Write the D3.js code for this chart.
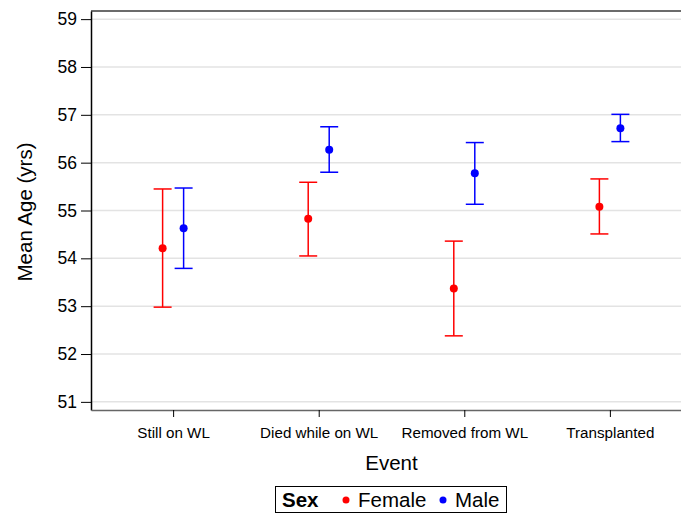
<!DOCTYPE html>
<html>
<head>
<meta charset="utf-8">
<script src="https://cdn.jsdelivr.net/npm/d3@7"></script>
<style>
  body { margin: 0; background: #fff; }
  svg { display: block; }
  svg text { font-family: "Liberation Sans", Arial, sans-serif; }
</style>
</head>
<body>
<div id="chart"></div>
<script>
var svgWidth = 681;
var svgHeight = 514;

// plot frame (right edge runs past the window, as in the original)
var margin = { top: 11, left: 91 };
var plotRight = 692;
var plotBottom = 410;

// data
var events = ["Still on WL", "Died while on WL", "Removed from WL", "Transplanted"];
var sexes = ["Female", "Male"];
var femaleMean  = [54.21, 54.83, 53.37, 55.08];
var femaleLower = [52.98, 54.05, 52.38, 54.51];
var femaleUpper = [55.45, 55.59, 54.36, 55.66];
var maleMean    = [54.63, 56.27, 55.78, 56.72];
var maleLower   = [53.79, 55.80, 55.13, 56.44];
var maleUpper   = [55.47, 56.75, 56.42, 57.01];
var yTicks = [51, 52, 53, 54, 55, 56, 57, 58, 59];

var colors = { Female: "#ff0000", Male: "#0000ff" };
var offsets = { Female: -10.5, Male: 10.5 };

var rows = [];
events.forEach(function(ev, i) {
  rows.push({ event: ev, sex: "Female", mean: femaleMean[i], lo: femaleLower[i], hi: femaleUpper[i] });
  rows.push({ event: ev, sex: "Male", mean: maleMean[i], lo: maleLower[i], hi: maleUpper[i] });
});

var svg = d3.select("#chart")
  .append("svg")
  .attr("width", svgWidth)
  .attr("height", svgHeight);

var x = d3.scalePoint()
  .domain(events)
  .range([margin.left, plotRight])
  .padding(0.564);

var y = d3.scaleLinear()
  .domain([50.83, 59.17])
  .range([plotBottom, margin.top]);

// gridlines
svg.append("g")
  .selectAll("line")
  .data(yTicks)
  .enter()
  .append("line")
  .attr("x1", margin.left)
  .attr("x2", plotRight)
  .attr("y1", d => y(d))
  .attr("y2", d => y(d))
  .attr("stroke", "#e3e3e3")
  .attr("stroke-width", 1.5);

// top frame line
svg.append("line")
  .attr("x1", margin.left).attr("x2", plotRight)
  .attr("y1", margin.top).attr("y2", margin.top)
  .attr("stroke", "#3a3a3a")
  .attr("stroke-width", 1.5);

// y axis
var yAxis = svg.append("g")
  .attr("transform", `translate(${margin.left},0)`)
  .call(d3.axisLeft(y).tickValues(yTicks).tickSize(10).tickPadding(4).tickSizeOuter(0));
yAxis.select(".domain").attr("stroke", "#000").attr("stroke-width", 1.5);
yAxis.selectAll(".tick line").attr("stroke", "#000");
yAxis.selectAll("text")
  .style("font-size", "17.5px")
  .attr("fill", "#000");

// x axis
var xAxis = svg.append("g")
  .attr("transform", `translate(0,${plotBottom})`)
  .call(d3.axisBottom(x).tickSize(7).tickPadding(10).tickSizeOuter(0));
xAxis.select(".domain").attr("stroke", "#666").attr("stroke-width", 1.5);
xAxis.selectAll(".tick line").attr("stroke", "#000");
xAxis.selectAll("text")
  .style("font-size", "15.2px")
  .attr("fill", "#000");

// axis titles
svg.append("text")
  .attr("x", (margin.left + plotRight) / 2)
  .attr("y", 470)
  .attr("text-anchor", "middle")
  .style("font-size", "20.5px")
  .text("Event");

svg.append("text")
  .attr("transform", "rotate(-90)")
  .attr("x", -212)
  .attr("y", 32)
  .attr("text-anchor", "middle")
  .style("font-size", "20.5px")
  .text("Mean Age (yrs)");

// error bars
var bars = svg.append("g")
  .selectAll("g")
  .data(rows)
  .enter()
  .append("g")
  .attr("stroke", d => colors[d.sex])
  .attr("stroke-width", 1.5);

bars.append("line")
  .attr("x1", d => x(d.event) + offsets[d.sex])
  .attr("x2", d => x(d.event) + offsets[d.sex])
  .attr("y1", d => y(d.lo))
  .attr("y2", d => y(d.hi));

bars.append("line")
  .attr("x1", d => x(d.event) + offsets[d.sex] - 9)
  .attr("x2", d => x(d.event) + offsets[d.sex] + 9)
  .attr("y1", d => y(d.hi))
  .attr("y2", d => y(d.hi));

bars.append("line")
  .attr("x1", d => x(d.event) + offsets[d.sex] - 9)
  .attr("x2", d => x(d.event) + offsets[d.sex] + 9)
  .attr("y1", d => y(d.lo))
  .attr("y2", d => y(d.lo));

svg.append("g")
  .selectAll("circle")
  .data(rows)
  .enter()
  .append("circle")
  .attr("cx", d => x(d.event) + offsets[d.sex])
  .attr("cy", d => y(d.mean))
  .attr("r", 4)
  .attr("fill", d => colors[d.sex]);

// legend
var legend = svg.append("g");
legend.append("rect")
  .attr("x", 275.5).attr("y", 486.5)
  .attr("width", 231).attr("height", 26)
  .attr("fill", "#fff")
  .attr("stroke", "#000")
  .attr("stroke-width", 1);

legend.append("text")
  .attr("x", 282).attr("y", 507)
  .style("font-size", "20.5px")
  .style("font-weight", "bold")
  .text("Sex");

var legendX = { Female: 346, Male: 443 };
sexes.forEach(function(s) {
  legend.append("circle")
    .attr("cx", legendX[s]).attr("cy", 500)
    .attr("r", 3.5)
    .attr("fill", colors[s]);
  legend.append("text")
    .attr("x", legendX[s] + 12).attr("y", 507)
    .style("font-size", "20.5px")
    .text(s);
});
</script>
</body>
</html>
